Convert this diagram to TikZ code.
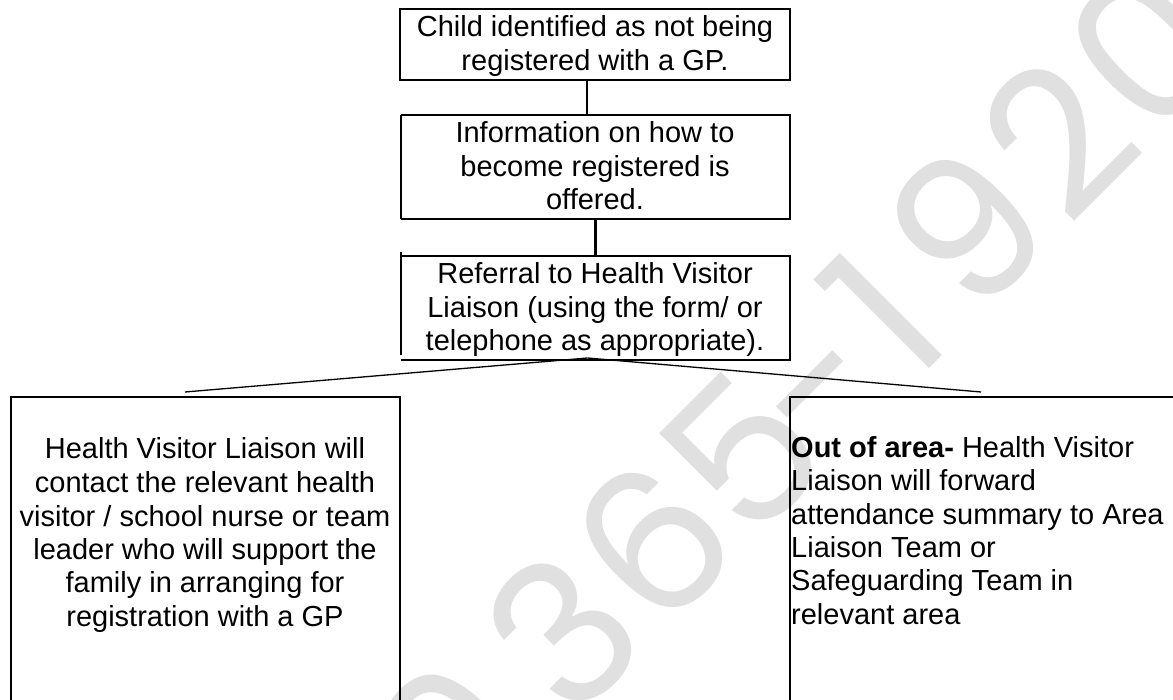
\documentclass[tikz,border=0pt]{standalone}
\usepackage{fontspec}
\setmainfont{Liberation Sans}
\newfontfamily\wmfont{Poppins}
\definecolor{wm}{RGB}{224,224,224}
\begin{document}
\begin{tikzpicture}[x=1pt,y=-1pt,
  box/.style={draw, line width=2.7pt, inner sep=0pt, outer sep=0pt, anchor=north west},
  openbox/.style={inner sep=0pt, outer sep=0pt, anchor=north west},
  edge/.style={line width=2.7pt},
  hair/.style={line width=1.1pt},
  conn/.style={line width=1.3pt},
  txt/.style={inner sep=0pt, font=\fontsize{29}{33.5}\selectfont},
  wmk/.style={rotate=45, anchor=base, text=wm, inner sep=0pt, font=\wmfont\fontsize{200}{200}\selectfont},
]
\useasboundingbox (0,0) rectangle (1173,700);
\clip (0,0) rectangle (1173,700);
% watermark glyphs along a 45 degree baseline
\node[wmk] (w0) at (504,794) {0};
\node[wmk] (w1) at (614,684) {3};
\node[wmk] (w2) at (704,594) {6};
\node[wmk] (w3) at (794,504) {5};
\node[wmk] (w4) at (864,434) {-};
\node[wmk] (w5) at (933,365) {1};
\node[wmk] (w6) at (1018.5,279.5) {9};
\node[wmk] (w7) at (1109,189) {2};
\node[wmk] (w8) at (1198,100) {0};

\node[box, minimum width=390pt, minimum height=71pt] (b1) at (400,9) {};
\node[openbox, minimum width=389pt, minimum height=104pt] (b2) at (401,115) {};
\node[openbox, minimum width=389pt, minimum height=104pt] (b3) at (401,256) {};
\node[box, minimum width=389pt, minimum height=330pt] (b4) at (11,397) {};
\node[box, minimum width=420pt, minimum height=330pt] (b5) at (790,397) {};

\draw[edge] (b2.north west) -- (b2.north east) -- (b2.south east) -- (b2.south west);
\draw[hair] (b2.south west) -- (b2.north west);
\draw[edge] (b3.north west) -- (b3.north east) -- (b3.south east) -- (b3.south west);
\draw[hair] ([yshift=4pt]b3.north west) -- ([yshift=5pt]b3.south west);

\node[txt, anchor=base] (t1) at (595,37) {\parbox[t]{400pt}{\centering Child identified as not being\\registered with a GP.}};
\node[txt, anchor=base] (t2) at (595,143) {\parbox[t]{400pt}{\centering Information on how to\\become registered is\\offered.}};
\node[txt, anchor=base] (t3) at (595,284) {\parbox[t]{400pt}{\centering Referral to Health Visitor\\Liaison (using the form/ or\\telephone as appropriate).}};
\node[txt, anchor=base] (t4) at (205,459) {\parbox[t]{400pt}{\centering Health Visitor Liaison will\\contact the relevant health\\visitor / school nurse or team\\leader who will support the\\family in arranging for\\registration with a GP}};
\node[txt, anchor=base west] (t5) at (791,457) {\parbox[t]{380pt}{\raggedright\textbf{Out of area-} Health Visitor\\Liaison will forward\\attendance summary to Area\\Liaison Team or\\Safeguarding Team in\\relevant area}};

\draw[conn] ([xshift=-8pt]b1.south) -- ([xshift=-8.5pt]b2.north);
\draw[edge] (b2.south) -- (b3.north);
\coordinate (lend) at (185,392);
\coordinate (rend) at (981,392);
\draw[conn] ([xshift=-8pt,yshift=2pt]b3.south) -- (lend);
\draw[conn] ([xshift=-8pt,yshift=2pt]b3.south) -- (rend);
\end{tikzpicture}
\end{document}
